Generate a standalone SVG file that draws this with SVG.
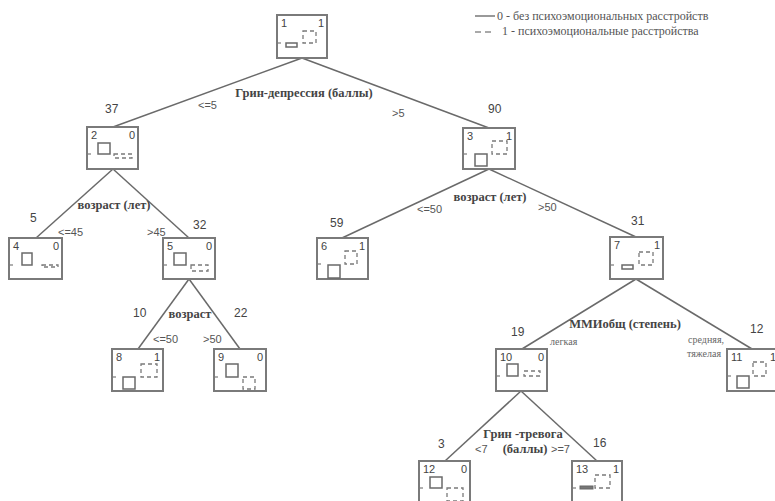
<svg xmlns="http://www.w3.org/2000/svg" width="775" height="501" viewBox="0 0 775 501">
<style>
.box{fill:#fff;stroke:#7a7a7a;stroke-width:2}
.bar{fill:none;stroke:#6a6a6a;stroke-width:1.5}
.dash{fill:none;stroke:#7a7a7a;stroke-width:1.3;stroke-dasharray:4 3}
.tick{stroke:#7a7a7a;stroke-width:1.2}
.edge{stroke:#6a6a6a;stroke-width:1.5;fill:none}
.n{font-family:"Liberation Sans",Arial,sans-serif;font-size:11px;fill:#444}
.c{font-family:"Liberation Sans",Arial,sans-serif;font-size:12px;fill:#444}
.s{font-family:"Liberation Sans",Arial,sans-serif;font-size:11px;fill:#555}
.a{font-family:"Liberation Serif","Times New Roman",serif;font-size:12.5px;font-weight:bold;fill:#444}
.l{font-family:"Liberation Serif","Times New Roman",serif;font-size:12px;fill:#555}
.m{font-family:"Liberation Serif","Times New Roman",serif;font-size:10px;fill:#666}
</style>
<rect width="775" height="501" fill="#fff"/>

<g id="legend">
<line x1="475" y1="16" x2="495" y2="16" stroke="#555" stroke-width="1.2"/>
<text class="l" x="497" y="20">0 - без психоэмоциональных расстройств</text>
<line x1="475" y1="32" x2="495" y2="32" stroke="#555" stroke-width="1.2" stroke-dasharray="6 4"/>
<text class="l" x="502" y="35">1 - психоэмоциональные расстройства</text>
</g>

<g id="connectors">
<line class="edge" x1="302" y1="58" x2="113" y2="127"/>
<line class="edge" x1="302" y1="58" x2="489" y2="128"/>
<line class="edge" x1="113" y1="169" x2="36" y2="238"/>
<line class="edge" x1="113" y1="169" x2="189" y2="238"/>
<line class="edge" x1="189" y1="279" x2="138" y2="349"/>
<line class="edge" x1="189" y1="279" x2="240" y2="349"/>
<line class="edge" x1="489" y1="169" x2="342" y2="238"/>
<line class="edge" x1="489" y1="169" x2="636" y2="237"/>
<line class="edge" x1="636" y1="279" x2="522" y2="349"/>
<line class="edge" x1="636" y1="279" x2="752" y2="349"/>
<line class="edge" x1="521" y1="391" x2="445" y2="461"/>
<line class="edge" x1="521" y1="391" x2="597" y2="461"/>
</g>

<g id="labels">
<text class="a" x="304" y="97" text-anchor="middle">Грин-депрессия (баллы)</text>
<text class="c" x="105" y="113">37</text>
<text class="s" x="198" y="109">&lt;=5</text>
<text class="s" x="392" y="117">&gt;5</text>
<text class="c" x="488" y="113">90</text>

<text class="a" x="114" y="209" text-anchor="middle">возраст (лет)</text>
<text class="c" x="30" y="222">5</text>
<text class="s" x="58" y="236">&lt;=45</text>
<text class="s" x="147" y="236">&gt;45</text>
<text class="c" x="193" y="229">32</text>

<text class="a" x="190" y="318" text-anchor="middle">возраст</text>
<text class="c" x="133" y="317">10</text>
<text class="c" x="234" y="317">22</text>
<text class="s" x="153" y="343">&lt;=50</text>
<text class="s" x="203" y="343">&gt;50</text>

<text class="a" x="490" y="201" text-anchor="middle">возраст (лет)</text>
<text class="c" x="330" y="227">59</text>
<text class="s" x="417" y="213">&lt;=50</text>
<text class="s" x="538" y="211">&gt;50</text>
<text class="c" x="631" y="225">31</text>

<text class="a" x="625" y="328" text-anchor="middle">ММИобщ (степень)</text>
<text class="c" x="511" y="336">19</text>
<text class="m" x="550" y="345">легкая</text>
<text class="c" x="750" y="333">12</text>
<text class="m" x="724" y="343" text-anchor="end">средняя,</text>
<text class="m" x="721" y="357" text-anchor="end">тяжелая</text>

<text class="a" x="523" y="438" text-anchor="middle">Грин -тревога</text>
<text class="a" x="525" y="453" text-anchor="middle">(баллы)</text>
<text class="s" x="475" y="453">&lt;7</text>
<text class="s" x="551" y="453">&gt;=7</text>
<text class="c" x="438" y="448">3</text>
<text class="c" x="593" y="447">16</text>
</g>

<g id="node1" transform="translate(277,15)">
<rect class="box" x="0" y="0" width="50" height="43"/>
<text class="n" x="4" y="12">1</text><text class="n" x="47" y="12" text-anchor="end">1</text>
<line class="tick" x1="0" y1="28" x2="4" y2="28"/>
<rect class="bar" x="9" y="28" width="11" height="4"/>
<rect class="dash" x="26" y="16" width="13" height="12"/>
</g>

<g id="node2" transform="translate(87,127)">
<rect class="box" x="0" y="0" width="51" height="42"/>
<text class="n" x="4" y="12">2</text><text class="n" x="48" y="12" text-anchor="end">0</text>
<line class="tick" x1="0" y1="27" x2="4" y2="27"/>
<rect class="bar" x="11" y="16" width="12" height="11"/>
<rect class="dash" x="27" y="27" width="18" height="4"/>
</g>

<g id="node3" transform="translate(463,128)">
<rect class="box" x="0" y="0" width="52" height="41"/>
<text class="n" x="4" y="12">3</text><text class="n" x="49" y="12" text-anchor="end">1</text>
<line class="tick" x1="0" y1="26" x2="4" y2="26"/>
<rect class="bar" x="12" y="26" width="12" height="12"/>
<rect class="dash" x="29" y="13" width="15" height="13"/>
</g>

<g id="node4" transform="translate(9,238)">
<rect class="box" x="0" y="0" width="53" height="41"/>
<text class="n" x="4" y="12">4</text><text class="n" x="50" y="12" text-anchor="end">0</text>
<line class="tick" x1="0" y1="27" x2="4" y2="27"/>
<rect class="bar" x="13" y="15" width="10" height="12"/>
<rect class="dash" x="33" y="27" width="16" height="2"/>
</g>

<g id="node5" transform="translate(163,238)">
<rect class="box" x="0" y="0" width="52" height="41"/>
<text class="n" x="4" y="12">5</text><text class="n" x="49" y="12" text-anchor="end">0</text>
<line class="tick" x1="0" y1="27" x2="4" y2="27"/>
<rect class="bar" x="11" y="15" width="12" height="12"/>
<rect class="dash" x="28" y="27" width="17" height="6"/>
</g>

<g id="node6" transform="translate(317,238)">
<rect class="box" x="0" y="0" width="51" height="41"/>
<text class="n" x="4" y="12">6</text><text class="n" x="48" y="12" text-anchor="end">1</text>
<line class="tick" x1="0" y1="26" x2="4" y2="26"/>
<rect class="bar" x="11" y="27" width="12" height="13"/>
<rect class="dash" x="28" y="13" width="12" height="13"/>
</g>

<g id="node7" transform="translate(610,237)">
<rect class="box" x="0" y="0" width="53" height="42"/>
<text class="n" x="4" y="12">7</text><text class="n" x="50" y="12" text-anchor="end">1</text>
<line class="tick" x1="0" y1="28" x2="4" y2="28"/>
<rect class="bar" x="12" y="28" width="11" height="4"/>
<rect class="dash" x="29" y="15" width="14" height="13"/>
</g>

<g id="node8" transform="translate(112,349)">
<rect class="box" x="0" y="0" width="51" height="42"/>
<text class="n" x="4" y="12">8</text><text class="n" x="48" y="12" text-anchor="end">1</text>
<line class="tick" x1="0" y1="28" x2="4" y2="28"/>
<rect class="bar" x="11" y="28" width="12" height="12"/>
<rect class="dash" x="29" y="15" width="16" height="13"/>
</g>

<g id="node9" transform="translate(214,349)">
<rect class="box" x="0" y="0" width="52" height="42"/>
<text class="n" x="4" y="12">9</text><text class="n" x="49" y="12" text-anchor="end">0</text>
<line class="tick" x1="0" y1="28" x2="4" y2="28"/>
<rect class="bar" x="12" y="15" width="12" height="13"/>
<rect class="dash" x="29" y="28" width="12" height="12"/>
</g>

<g id="node10" transform="translate(496,349)">
<rect class="box" x="0" y="0" width="51" height="42"/>
<text class="n" x="4" y="12">10</text><text class="n" x="48" y="12" text-anchor="end">0</text>
<line class="tick" x1="0" y1="27" x2="4" y2="27"/>
<rect class="bar" x="11" y="15" width="11" height="12"/>
<rect class="dash" x="28" y="22" width="16" height="5"/>
</g>

<g id="node11" transform="translate(727,349)">
<rect class="box" x="0" y="0" width="52" height="42"/>
<text class="n" x="4" y="12">11</text><text class="n" x="49" y="12" text-anchor="end">1</text>
<line class="tick" x1="0" y1="27" x2="4" y2="27"/>
<rect class="bar" x="10" y="27" width="12" height="12"/>
<rect class="dash" x="26" y="13" width="13" height="14"/>
</g>

<g id="node12" transform="translate(419,461)">
<rect class="box" x="0" y="0" width="51" height="42"/>
<text class="n" x="4" y="12">12</text><text class="n" x="48" y="12" text-anchor="end">0</text>
<line class="tick" x1="0" y1="27" x2="4" y2="27"/>
<rect class="bar" x="11" y="16" width="12" height="11"/>
<rect class="dash" x="28" y="27" width="16" height="13"/>
</g>

<g id="node13" transform="translate(572,461)">
<rect class="box" x="0" y="0" width="50" height="42"/>
<text class="n" x="4" y="12">13</text><text class="n" x="47" y="12" text-anchor="end">1</text>
<line class="tick" x1="0" y1="27" x2="4" y2="27"/>
<rect x="8" y="25" width="13" height="3" fill="#777" stroke="#666" stroke-width="1"/>
<rect class="dash" x="23" y="14" width="15" height="13"/>
</g>
</svg>
